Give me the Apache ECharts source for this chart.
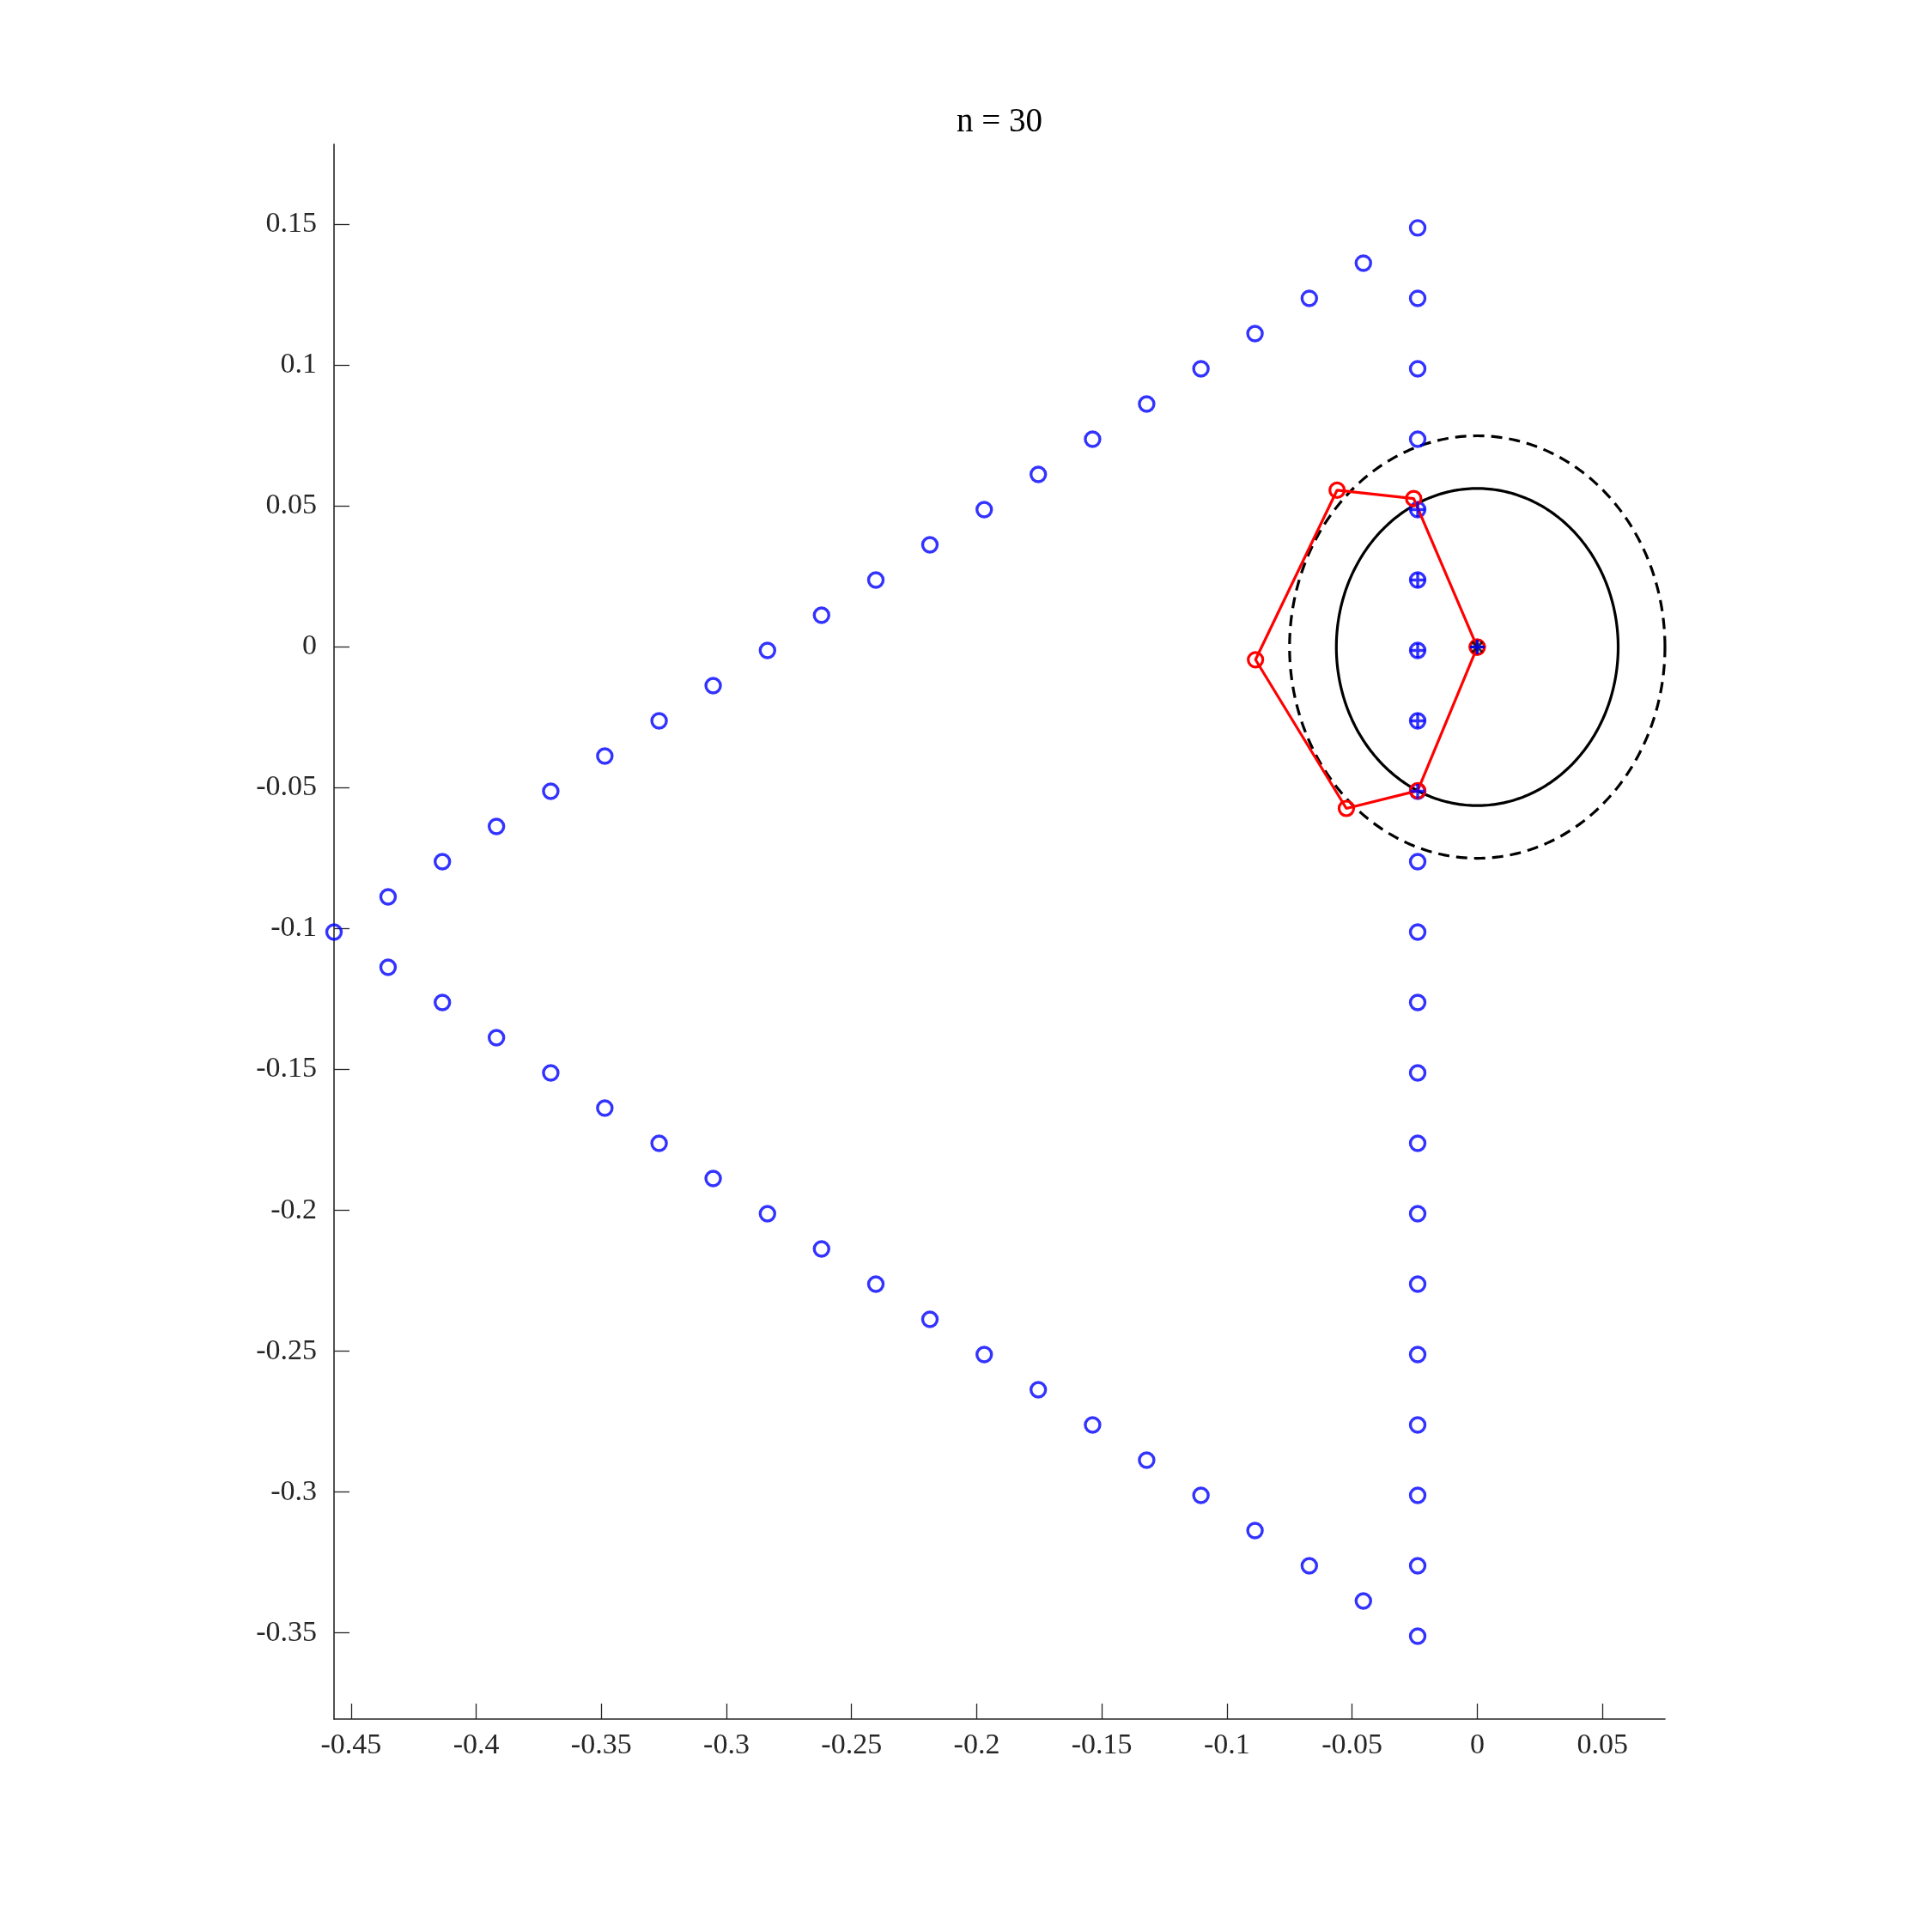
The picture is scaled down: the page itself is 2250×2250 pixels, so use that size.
<!DOCTYPE html>
<html>
<head>
<meta charset="utf-8">
<script src="https://cdn.jsdelivr.net/npm/echarts@6/dist/echarts.min.js"></script>
<style>html,body{margin:0;padding:0;background:#fff}#c{width:2250px;height:2250px}</style>
</head>
<body>
<div id="c"></div>
<script>
// ---- data ----
const titleText = 'n = 30';
const xTicks = [-0.45, -0.4, -0.35, -0.3, -0.25, -0.2, -0.15, -0.1, -0.05, 0, 0.05];
const yTicks = [-0.35, -0.3, -0.25, -0.2, -0.15, -0.1, -0.05, 0, 0.05, 0.1, 0.15];

// vertical column of blue circles
const columnX = -0.0238;
const columnY = [0.1488, 0.1238, 0.0988, 0.0738, 0.0488, 0.0238, -0.0012, -0.0262, -0.0512, -0.0762,
                 -0.1012, -0.1262, -0.1512, -0.1762, -0.2012, -0.2262, -0.2512, -0.2762, -0.3012, -0.3262, -0.3512];
// diagonal branches (same x positions for upper and lower branch)
const diagX  = [-0.0455, -0.0671, -0.0888, -0.1104, -0.1321, -0.1537, -0.1754, -0.1970, -0.2187, -0.2403,
                -0.2620, -0.2836, -0.3053, -0.3269, -0.3486, -0.3702, -0.3919, -0.4135, -0.4352, -0.4568];
const upperY = [0.1363, 0.1238, 0.1113, 0.0988, 0.0863, 0.0738, 0.0613, 0.0488, 0.0363, 0.0238,
                0.0113, -0.0012, -0.0137, -0.0262, -0.0387, -0.0512, -0.0637, -0.0762, -0.0887, -0.1012];
const lowerY = [-0.3387, -0.3262, -0.3137, -0.3012, -0.2887, -0.2762, -0.2637, -0.2512, -0.2387, -0.2262,
                -0.2137, -0.2012, -0.1887, -0.1762, -0.1637, -0.1512, -0.1387, -0.1262, -0.1137];

// blue plus markers
const plusX = [-0.0238, -0.0238, -0.0238, -0.0238, -0.0238, 0];
const plusY = [0.0488, 0.0238, -0.0012, -0.0262, -0.0512, 0];
// black star marker
const starX = [0];
const starY = [0];
// red closed polygon
const polyX = [0, -0.0254, -0.0560, -0.0886, -0.0523, -0.0238, 0];
const polyY = [0, 0.0527, 0.0557, -0.0045, -0.0573, -0.0510, 0];
// circles centred at the origin: [cx, cy, radius]
const solidCircle  = [0, 0, 0.0563];
const dashedCircle = [0, 0, 0.075];

const xMin = -0.4568, xMax = 0.075;
const yMin = -0.3806, yMax = 0.1785;

// ---- build options ----
const zip = (xs, ys) => xs.map((x, i) => [x, ys[i]]);
const blueCircles = columnY.map(y => [columnX, y])
  .concat(zip(diagX, upperY))
  .concat(zip(diagX.slice(0, lowerY.length), lowerY));

const FONT = '"Liberation Serif", "Times New Roman", serif';
const AX = '#262626';

function circleItem(dash) {
  return function (params, api) {
    const cx = api.value(0), cy = api.value(1), r = api.value(2);
    const pts = [];
    for (let i = 0; i <= 360; i++) {
      const t = i * Math.PI / 180;
      pts.push(api.coord([cx + r * Math.cos(t), cy + r * Math.sin(t)]));
    }
    return {
      type: 'polyline',
      shape: { points: pts },
      style: { stroke: '#000', lineWidth: 3.2, fill: null, lineDash: dash ? [13, 8] : null }
    };
  };
}

const chart = echarts.init(document.getElementById('c'));
chart.setOption({
  animation: false,
  backgroundColor: '#fff',
  grid: { left: 389, right: 311, top: 168, bottom: 248, containLabel: false },
  graphic: [{
    type: 'text', x: 1164, y: 143,
    style: { text: titleText, font: '39px ' + FONT, fill: '#000', align: 'center', verticalAlign: 'middle',
             textAlign: 'center', textVerticalAlign: 'middle' }
  }],
  xAxis: {
    type: 'value', min: xMin, max: xMax,
    axisLine: { show: true, onZero: false, lineStyle: { color: AX, width: 1.6 } },
    axisTick: { show: true, inside: true, length: 18, lineStyle: { color: AX, width: 1.3 }, customValues: xTicks },
    axisLabel: { show: true, customValues: xTicks, margin: 14, color: AX, fontFamily: FONT, fontSize: 34,
                 formatter: v => String(v) },
    splitLine: { show: false }
  },
  yAxis: {
    type: 'value', min: yMin, max: yMax,
    axisLine: { show: true, onZero: false, lineStyle: { color: AX, width: 1.6 } },
    axisTick: { show: true, inside: true, length: 18, lineStyle: { color: AX, width: 1.3 }, customValues: yTicks },
    axisLabel: { show: true, customValues: yTicks, margin: 20, color: AX, fontFamily: FONT, fontSize: 34,
                 formatter: v => String(v) },
    splitLine: { show: false }
  },
  series: [
    { type: 'custom', silent: true, clip: false, renderItem: circleItem(false), data: [solidCircle], encode: { x: 0, y: 1 }, z: 1 },
    { type: 'custom', silent: true, clip: false, renderItem: circleItem(true), data: [dashedCircle], encode: { x: 0, y: 1 }, z: 1 },
    { type: 'scatter', silent: true, symbol: 'circle', symbolSize: 17, data: blueCircles, z: 2,
      itemStyle: { color: 'none', borderColor: '#0000ff', borderWidth: 3.4 } },
    { type: 'line', silent: true, data: zip(polyX, polyY), symbol: 'circle', symbolSize: 17, showAllSymbol: true, z: 3,
      lineStyle: { color: '#ff0000', width: 3.2 },
      itemStyle: { color: 'none', borderColor: '#ff0000', borderWidth: 3.2 } },
    { type: 'scatter', silent: true, symbol: 'path://M0,-1L0,1M-1,0L1,0M-0.7,-0.7L0.7,0.7M-0.7,0.7L0.7,-0.7',
      symbolSize: 17, data: zip(starX, starY), z: 4,
      itemStyle: { color: 'none', borderColor: '#000', borderWidth: 3 } },
    { type: 'scatter', silent: true, symbol: 'path://M0,-1L0,1M-1,0L1,0', symbolSize: 17, data: zip(plusX, plusY), z: 5,
      itemStyle: { color: 'none', borderColor: '#0000ff', borderWidth: 3.4 } }
  ]
});
</script>
</body>
</html>
